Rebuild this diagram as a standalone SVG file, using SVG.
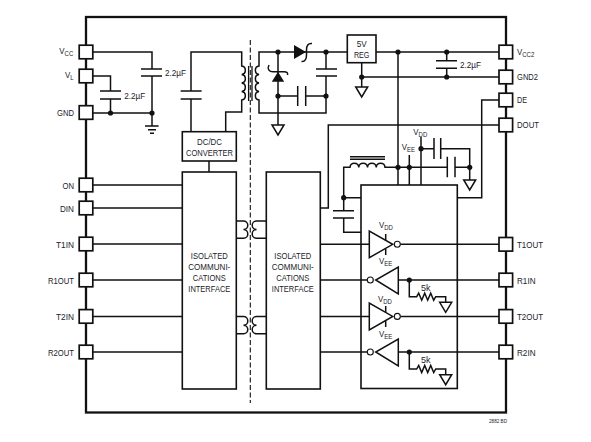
<svg xmlns="http://www.w3.org/2000/svg" width="591" height="442" viewBox="0 0 591 442">
<style>
text{font-family:"Liberation Sans",Arial,sans-serif;font-size:9.9px;fill:#22222a}
.s{font-size:7.5px}
.c{text-anchor:middle}
.w{fill:none;stroke:#111;stroke-width:1.5}
.p{fill:#fff;stroke:#111;stroke-width:1.7}
.b{fill:#fff;stroke:#111;stroke-width:1.6}
.o{fill:none;stroke:#111;stroke-width:1.6}
.d{fill:#111;stroke:none}
.f{fill:#fff;stroke:#111;stroke-width:1.5}
.r{fill:#fff;stroke:#111;stroke-width:1.1}
.g{fill:none;stroke:#111;stroke-width:1.5}
</style>
<defs>
<polygon id="gnd" class="g" points="-6,0 6,0 0,10"/>
<circle id="dot" class="d" r="2.6"/>
<rect id="pin" class="p" x="-6.8" y="-6.8" width="13.6" height="13.6"/>
</defs>
<g id="frame"><rect x="86" y="17" width="420" height="395.5" fill="none" stroke="#111" stroke-width="2.3"/></g>
<g id="isolation-barrier"><path d="M250.3 40V403" fill="none" stroke="#111" stroke-width="1.1" stroke-dasharray="5 2.5"/></g>
<g id="connectors">
<path class="w" d="M92 52H152V69M152 76V113M141 69H162M141 76H162"/>
<path class="w" d="M92 76H110.5V91M110.5 99V113M100 91H121M100 99H121"/>
<path class="w" d="M92 113H152V126M145 126H158.6M148 129.7H156M150 133.3H154"/>
<path class="w" d="M191 131.7V99M191 91V52H241.7V66a4.3 4.3 0 0 1 0 8.5a4.3 4.3 0 0 1 0 8.5a4.3 4.3 0 0 1 0 8.5a4.3 4.3 0 0 1 0 8.5V112H225.7V131.7M180.6 91H201.6M180.6 99H201.6"/>
<path fill="none" stroke="#111" stroke-width="1.3" d="M248.6 66V101M252 66V101"/>
<path class="w" d="M209 161V172"/>
<path class="w" d="M347 52H259V66a4.3 4.3 0 0 0 0 8.5a4.3 4.3 0 0 0 0 8.5a4.3 4.3 0 0 0 0 8.5a4.3 4.3 0 0 0 0 8.5V113H326V76M326 69V52M316 69H337M316 76H337"/>
<path class="w" d="M278 52V125M278 96H297.7M305.7 96H326M297.7 86V106M305.7 86V106"/>
<path class="w" d="M312 43.5C308 43 306.5 46 306.5 50V55C306.5 59 305 62 301.5 61.5"/>
<path class="w" d="M269 65C267 69 269 71.7 273 71.7H284C287 71.7 288 73 287.5 75"/>
<polygon class="d" points="294,45 294,59 306,52"/>
<polygon class="d" points="278,71.7 271.8,81.7 284.2,81.7"/>
<path class="w" d="M376 52H499M361.7 62.7V87M361.7 77H499M446.7 52V60.7M446.7 68.3V77M436 60.7H457M436 68.3H457"/>
<path class="w" d="M398 52V185M499 125H328.3V208H320"/>
<path class="w" d="M499 100H481.7V197.7H457.3"/>
<path class="w" d="M361 197.7H343.7V210.7M343.7 218V232.3H361M333 210.7H354M333 218H354"/>
<path class="w" d="M343.7 197.7V167.3H350a4.4 4.4 0 0 1 8.75 0a4.4 4.4 0 0 1 8.75 0a4.4 4.4 0 0 1 8.75 0a4.4 4.4 0 0 1 8.75 0H447.3M455 167.3H469.7M350 156.7H385M350 159.3H385"/>
<path class="w" d="M409.3 155V185M421 137V185M421 148.7H434M440.7 148.7H469.7V180M434 138V159M440.7 138V159M447.3 156.7V177.3M455 156.7V177.3"/>
<path class="w" d="M92 185H182M92 208H182M92 244H182M92 280H182M92 316.4H182M92 352H182"/>
<path class="w" d="M236.3 221H243.5a4.3 4.3 0 0 1 0 8.6a4.3 4.3 0 0 1 0 8.6H236.3M266.3 221H256.5a4.3 4.3 0 0 0 0 8.6a4.3 4.3 0 0 0 0 8.6H266.3"/>
<path class="w" d="M236.3 316.6H243.5a4.3 4.3 0 0 1 0 8.6a4.3 4.3 0 0 1 0 8.6H236.3M266.3 316.6H256.5a4.3 4.3 0 0 0 0 8.6a4.3 4.3 0 0 0 0 8.6H266.3"/>
<path class="w" d="M320 244.3H369.3M400.3 244.3H499M320 280H367.3M398.3 280H499M320 316.4H369.3M400.3 316.4H499M320 352H367.3M398.3 352H499"/>
<path class="w" d="M385.7 234V240M385.7 249V255M385.7 306V312M385.7 321V327"/>
<path class="w" d="M409.3 280V296.7H416.7l2 -3.5l3 7l3 -7l3 7l3 -7l3 7l2 -3.5H445.7V302.3"/>
<path class="w" d="M409.3 352V369H416.7l2 -3.5l3 7l3 -7l3 7l3 -7l3 7l2 -3.5H445.7V374.7"/>
<use href="#gnd" x="278" y="125"/>
<use href="#gnd" x="361.7" y="87"/>
<use href="#gnd" x="469.7" y="180"/>
<use href="#gnd" x="445.7" y="302.3"/>
<use href="#gnd" x="445.7" y="374.7"/>
<use href="#dot" x="110.5" y="113"/>
<use href="#dot" x="152" y="113"/>
<use href="#dot" x="278" y="52"/>
<use href="#dot" x="326" y="52"/>
<use href="#dot" x="278" y="96"/>
<use href="#dot" x="326" y="96"/>
<use href="#dot" x="361.7" y="77"/>
<use href="#dot" x="398" y="52"/>
<use href="#dot" x="446.7" y="52"/>
<use href="#dot" x="446.7" y="77"/>
<use href="#dot" x="398" y="167.3"/>
<use href="#dot" x="409.3" y="167.3"/>
<use href="#dot" x="421" y="148.7"/>
<use href="#dot" x="469.7" y="167.3"/>
<use href="#dot" x="343.7" y="197.7"/>
<use href="#dot" x="409.3" y="280"/>
<use href="#dot" x="409.3" y="352"/>
</g>
<g id="receiver-block"><rect class="o" x="361" y="185" width="96.3" height="203.5"/></g>
<g id="driver-t1"><polygon class="f" points="369.3,231 369.3,257.7 392.7,244.3"/><circle class="r" cx="397.3" cy="244.3" r="3"/></g>
<g id="receiver-r1"><polygon class="f" points="398.3,267 398.3,294 375.7,280"/><circle class="r" cx="370.3" cy="280" r="3"/></g>
<g id="driver-t2"><polygon class="f" points="369.3,303 369.3,330 392.7,316.4"/><circle class="r" cx="397.3" cy="316.4" r="3"/></g>
<g id="receiver-r2"><polygon class="f" points="398.3,339 398.3,366 375.7,352"/><circle class="r" cx="370.3" cy="352" r="3"/></g>
<g id="dcdc"><rect class="b" x="182.3" y="131.7" width="54" height="29.3"/>
<text class="c" x="209.5" y="145" textLength="25" lengthAdjust="spacingAndGlyphs">DC/DC</text>
<text class="c" x="209.5" y="155.7" textLength="47" lengthAdjust="spacingAndGlyphs">CONVERTER</text></g>
<g id="reg"><rect class="b" x="347.3" y="35" width="28.7" height="27.7"/>
<text class="c" x="361.7" y="46.7" textLength="10" lengthAdjust="spacingAndGlyphs">5V</text>
<text class="c" x="361.7" y="57.7" textLength="15.5" lengthAdjust="spacingAndGlyphs">REG</text></g>
<g id="iface-left"><rect class="b" x="182.3" y="172" width="54" height="217"/>
<text class="c" x="209.3" y="259" textLength="37" lengthAdjust="spacingAndGlyphs">ISOLATED</text>
<text class="c" x="209.3" y="270" textLength="42" lengthAdjust="spacingAndGlyphs">COMMUNI-</text>
<text class="c" x="209.3" y="281" textLength="33" lengthAdjust="spacingAndGlyphs">CATIONS</text>
<text class="c" x="209.3" y="291.5" textLength="42" lengthAdjust="spacingAndGlyphs">INTERFACE</text></g>
<g id="iface-right"><rect class="b" x="266.3" y="172" width="54" height="217"/>
<text class="c" x="292.8" y="259" textLength="37" lengthAdjust="spacingAndGlyphs">ISOLATED</text>
<text class="c" x="292.8" y="270" textLength="42" lengthAdjust="spacingAndGlyphs">COMMUNI-</text>
<text class="c" x="292.8" y="281" textLength="33" lengthAdjust="spacingAndGlyphs">CATIONS</text>
<text class="c" x="292.8" y="291.5" textLength="42" lengthAdjust="spacingAndGlyphs">INTERFACE</text></g>
<g id="pin-vcc"><use href="#pin" x="86" y="52"/><text transform="translate(59.3 54.3) scale(.8 1)">V<tspan class="s" dy="2">CC</tspan></text></g>
<g id="pin-vl"><use href="#pin" x="86" y="76"/><text transform="translate(65 78) scale(.8 1)">V<tspan class="s" dy="2">L</tspan></text></g>
<g id="pin-gnd"><use href="#pin" x="86" y="112.5"/><text x="57" y="116" textLength="17" lengthAdjust="spacingAndGlyphs">GND</text></g>
<g id="pin-on"><use href="#pin" x="86" y="185"/><text x="62.5" y="188.5" textLength="11.5" lengthAdjust="spacingAndGlyphs">ON</text></g>
<g id="pin-din"><use href="#pin" x="86" y="208"/><text x="60" y="211.5" textLength="14" lengthAdjust="spacingAndGlyphs">DIN</text></g>
<g id="pin-t1in"><use href="#pin" x="86" y="244"/><text x="56" y="247.5" textLength="18" lengthAdjust="spacingAndGlyphs">T1IN</text></g>
<g id="pin-r1out"><use href="#pin" x="86" y="280"/><text x="48" y="283.5" textLength="26" lengthAdjust="spacingAndGlyphs">R1OUT</text></g>
<g id="pin-t2in"><use href="#pin" x="86" y="316.4"/><text x="56" y="319.8" textLength="18" lengthAdjust="spacingAndGlyphs">T2IN</text></g>
<g id="pin-r2out"><use href="#pin" x="86" y="352"/><text x="48" y="355.5" textLength="26" lengthAdjust="spacingAndGlyphs">R2OUT</text></g>
<g id="pin-vcc2"><use href="#pin" x="505.8" y="52"/><text transform="translate(517 54.5) scale(.8 1)">V<tspan class="s" dy="2">CC2</tspan></text></g>
<g id="pin-gnd2"><use href="#pin" x="505.8" y="77"/><text x="517" y="79.5" textLength="21" lengthAdjust="spacingAndGlyphs">GND2</text></g>
<g id="pin-de"><use href="#pin" x="505.8" y="100"/><text x="517" y="103.2" textLength="10" lengthAdjust="spacingAndGlyphs">DE</text></g>
<g id="pin-dout"><use href="#pin" x="505.8" y="125"/><text x="517" y="128" textLength="22" lengthAdjust="spacingAndGlyphs">DOUT</text></g>
<g id="pin-t1out"><use href="#pin" x="505.8" y="244.3"/><text x="517" y="247.7" textLength="26" lengthAdjust="spacingAndGlyphs">T1OUT</text></g>
<g id="pin-r1in"><use href="#pin" x="505.8" y="280"/><text x="517" y="283.5" textLength="18.5" lengthAdjust="spacingAndGlyphs">R1IN</text></g>
<g id="pin-t2out"><use href="#pin" x="505.8" y="316.4"/><text x="517" y="319.8" textLength="26" lengthAdjust="spacingAndGlyphs">T2OUT</text></g>
<g id="pin-r2in"><use href="#pin" x="505.8" y="352"/><text x="517" y="355.5" textLength="18.5" lengthAdjust="spacingAndGlyphs">R2IN</text></g>
<g id="labels">
<text x="165" y="76" textLength="21" lengthAdjust="spacingAndGlyphs">2.2µF</text>
<text x="124.3" y="98.7" textLength="21" lengthAdjust="spacingAndGlyphs">2.2µF</text>
<text x="460" y="68" textLength="21" lengthAdjust="spacingAndGlyphs">2.2µF</text>
<text transform="translate(413.3 135) scale(.8 1)">V<tspan class="s" dy="2">DD</tspan></text>
<text transform="translate(401.7 150) scale(.8 1)">V<tspan class="s" dy="2">EE</tspan></text>
<text transform="translate(379 228) scale(.8 1)">V<tspan class="s" dy="2">DD</tspan></text>
<text transform="translate(379 264) scale(.8 1)">V<tspan class="s" dy="2">EE</tspan></text>
<text transform="translate(378 301.7) scale(.8 1)">V<tspan class="s" dy="2">DD</tspan></text>
<text transform="translate(379 336.7) scale(.8 1)">V<tspan class="s" dy="2">EE</tspan></text>
<text class="c" x="425.7" y="290.7" textLength="9.5" lengthAdjust="spacingAndGlyphs">5k</text>
<text class="c" x="425.7" y="362.7" textLength="9.5" lengthAdjust="spacingAndGlyphs">5k</text>
<text x="489" y="423" style="font-size:5.5px" textLength="18" lengthAdjust="spacingAndGlyphs">2882 BD</text>
</g>
</svg>
